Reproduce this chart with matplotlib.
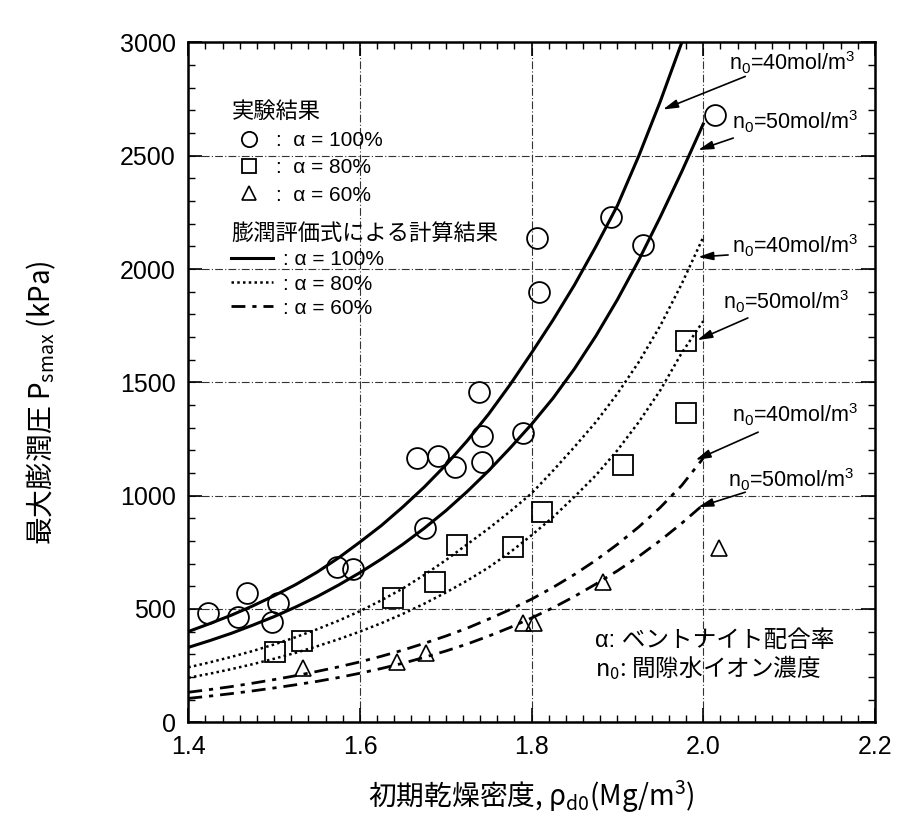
import matplotlib
matplotlib.use('Agg')
import matplotlib.pyplot as plt
from matplotlib.ticker import MultipleLocator, FormatStrFormatter

plt.rcParams['font.family'] = ['Liberation Sans', 'Noto Sans CJK JP', 'DejaVu Sans']
plt.rcParams['mathtext.fontset'] = 'custom'
plt.rcParams['mathtext.rm'] = 'Liberation Sans'
plt.rcParams['mathtext.it'] = 'Liberation Sans:italic'
plt.rcParams['mathtext.default'] = 'regular'

# measured data: initial dry density vs max swelling pressure
circle_x = [1.423, 1.458, 1.468, 1.497, 1.504, 1.573, 1.592, 1.666, 1.676, 1.691,
            1.711, 1.739, 1.742, 1.742, 1.790, 1.806, 1.809, 1.892, 1.930, 2.014]
circle_y = [481, 464, 570, 442, 525, 684, 675, 1166, 857, 1174,
            1126, 1457, 1263, 1148, 1276, 2137, 1898, 2230, 2106, 2680]
square_x = [1.501, 1.532, 1.638, 1.687, 1.713, 1.778, 1.812, 1.906, 1.980, 1.980]
square_y = [309, 358, 547, 618, 781, 773, 927, 1135, 1364, 1682]
tri_x = [1.534, 1.643, 1.677, 1.790, 1.803, 1.883, 2.018]
tri_y = [238, 265, 305, 437, 437, 618, 768]

# calculated curves
curve_x = [1.400, 1.425, 1.450, 1.475, 1.500, 1.525, 1.550, 1.575, 1.600,
           1.625, 1.650, 1.675, 1.700, 1.725, 1.750, 1.775, 1.800,
           1.825, 1.850, 1.875, 1.900, 1.925, 1.950, 1.975, 2.000]
a100_n40 = [400, 435, 472, 513, 558, 607, 662, 725, 795,
            868, 950, 1038, 1135, 1242, 1360, 1490, 1630,
            1775, 1930, 2100, 2280, 2500, 2740, 3000, 3280]
a100_n50 = [330, 360, 392, 428, 466, 508, 554, 605, 660,
            720, 785, 856, 933, 1018, 1110, 1210, 1315,
            1430, 1560, 1705, 1865, 2040, 2230, 2430, 2640]
a80_n40 = [242, 264, 288, 314, 343, 375, 410, 448, 490,
           538, 590, 650, 715, 785, 855, 930, 1010,
           1110, 1215, 1325, 1450, 1590, 1750, 1935, 2140]
a80_n50 = [196, 214, 234, 256, 280, 306, 335, 366, 400,
           437, 478, 523, 572, 625, 683, 750, 825,
           905, 995, 1090, 1200, 1325, 1465, 1630, 1770]
a60_n40 = [132, 144, 157, 172, 188, 205, 224, 244, 266,
           291, 318, 348, 380, 415, 455, 497, 543,
           595, 652, 715, 785, 862, 948, 1045, 1165]
a60_n50 = [105, 115, 126, 138, 151, 165, 180, 197, 216,
           237, 260, 286, 314, 345, 380, 418, 460,
           505, 555, 610, 668, 732, 802, 878, 960]

fig = plt.figure(figsize=(9.01, 8.32), dpi=100)
ax = fig.add_axes([0.209, 0.132, 0.762, 0.817])

dashdot = (0, (5, 2.5, 1.5, 2.5))
dotted = (0, (1, 1.3))

l1, = ax.plot(curve_x, a100_n40, color='black', lw=2.2)
ax.plot(curve_x, a100_n50, color='black', lw=2.2)
l2, = ax.plot(curve_x, a80_n40, color='black', lw=1.8, linestyle=dotted)
ax.plot(curve_x, a80_n50, color='black', lw=1.8, linestyle=dotted)
l3, = ax.plot(curve_x, a60_n40, color='black', lw=2.0, linestyle=dashdot)
ax.plot(curve_x, a60_n50, color='black', lw=2.0, linestyle=dashdot)

m1, = ax.plot(circle_x, circle_y, 'o', ms=15, mfc='none', mec='black', mew=1.3)
m2, = ax.plot(square_x, square_y, 's', ms=14, mfc='none', mec='black', mew=1.3)
m3, = ax.plot(tri_x, tri_y, '^', ms=11, mfc='none', mec='black', mew=1.2)

ax.set_xlim(1.4, 2.2)
ax.set_ylim(0, 3000)
ax.xaxis.set_major_locator(MultipleLocator(0.2))
ax.xaxis.set_minor_locator(MultipleLocator(0.02))
ax.xaxis.set_major_formatter(FormatStrFormatter('%.1f'))
ax.yaxis.set_major_locator(MultipleLocator(500))
ax.yaxis.set_minor_locator(MultipleLocator(100))
ax.tick_params(which='both', direction='in', top=True, right=True)
ax.tick_params(which='major', length=10, width=1.2, labelsize=18, pad=9)
ax.tick_params(which='minor', length=5, width=1.0)
for s in ax.spines.values():
    s.set_linewidth(1.8)
ax.grid(True, which='major', color='#333333', lw=0.8, linestyle=(0, (7, 2, 1, 2)))

ax.set_xlabel('初期乾燥密度, ρ$_{d0}$(Mg/m$^3$)', fontfamily='Noto Sans CJK JP',
              fontsize=20, labelpad=14)
ax.set_ylabel('最大膨潤圧 P$_{smax}$ (kPa)', fontfamily='Noto Sans CJK JP',
              fontsize=20)
ax.yaxis.set_label_coords(-0.19, 0.47)

# legends
leg1 = ax.legend([m1, m2, m3], [':  α = 100%', ':  α = 80%', ':  α = 60%'],
                 title='実験結果', loc='upper left', bbox_to_anchor=(0.052, 0.925),
                 frameon=False, fontsize=15, title_fontsize=16, alignment='left',
                 handlelength=1.6, handletextpad=0.5, labelspacing=0.4,
                 borderaxespad=0)
for h, ms in zip(leg1.legend_handles, [11, 10, 10]):
    h.set_markersize(ms)
ax.add_artist(leg1)
ax.legend([l1, l2, l3], [': α = 100%', ': α = 80%', ': α = 60%'],
          title='膨潤評価式による計算結果', loc='upper left', bbox_to_anchor=(0.05, 0.745),
          frameon=False, fontsize=15, title_fontsize=16, alignment='left',
          handlelength=2.0, handletextpad=0.5, labelspacing=0.25, borderaxespad=0)

# n0 annotations: (label, arrow tip, arrow tail, text position)
notes = [
    ('n$_0$=40mol/m$^3$', (1.953, 2704), (2.049, 2850), (2.030, 2910)),
    ('n$_0$=50mol/m$^3$', (1.994, 2525), (2.035, 2578), (2.033, 2649)),
    ('n$_0$=40mol/m$^3$', (1.994, 2053), (2.029, 2062), (2.033, 2102)),
    ('n$_0$=50mol/m$^3$', (1.993, 1686), (2.052, 1784), (2.023, 1854)),
    ('n$_0$=40mol/m$^3$', (1.991, 1157), (2.064, 1280), (2.033, 1355)),
    ('n$_0$=50mol/m$^3$', (1.994, 949), (2.049, 1015), (2.029, 1068)),
]
for label, tip, tail, pos in notes:
    ax.annotate('', xy=tip, xytext=tail,
                arrowprops=dict(arrowstyle='-|>,head_length=0.9,head_width=0.25',
                                color='black', lw=1.2, shrinkA=0, shrinkB=0))
    ax.text(pos[0], pos[1], label, fontsize=15.5, ha='left', va='center')

ax.text(1.874, 358, 'α: ベントナイト配合率', fontsize=17, ha='left', va='center')
ax.text(1.874, 243, 'n$_0$: 間隙水イオン濃度', fontsize=17, ha='left', va='center',
        fontfamily='Noto Sans CJK JP')

fig.savefig('out.png', dpi=100)
